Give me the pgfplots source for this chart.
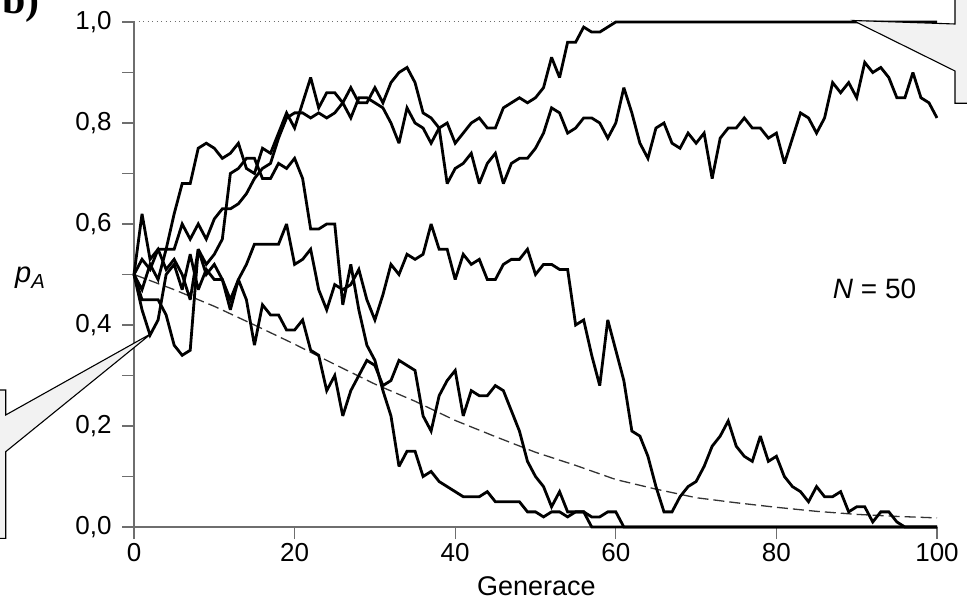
\documentclass[border=0pt]{standalone}
\usepackage{fontspec}
\setmainfont{Liberation Sans}
\newfontfamily\serifb{Liberation Serif}
\usepackage{pgfplots}
\pgfplotsset{compat=1.18}
\definecolor{axgray}{HTML}{6E6E6E}
\definecolor{callfill}{HTML}{F2F2F2}
\begin{document}
\begin{tikzpicture}[x=1pt,y=1pt]
\useasboundingbox (0,0) rectangle (967,606);
\begin{axis}[
  at={(134pt,79pt)}, anchor=south west,
  scale only axis, width=803pt, height=505pt,
  xmin=0, xmax=100, ymin=0, ymax=1,
  clip=false,
  axis x line*=bottom, axis y line*=left,
  axis line style={-, draw=axgray, line width=1.3pt},
  tick align=outside,
  major tick length=12pt, minor tick length=12pt,
  tick style={draw=axgray, line width=1.3pt},
  xtick={0,20,40,60,80,100},
  ytick={0,0.2,0.4,0.6,0.8,1.0},
  minor ytick={0.1,0.3,0.5,0.7,0.9},
  /pgf/number format/assume math mode=true,
  yticklabel style={xshift=-7pt, /pgf/number format/use comma, /pgf/number format/fixed, /pgf/number format/fixed zerofill, /pgf/number format/precision=1},
  xticklabel style={yshift=-1pt},
  tick label style={font=\fontsize{26}{31}\selectfont, black},
  traj/.style={black, solid, mark=none, line width=2.8pt, miter limit=3},
]
\addplot[axgray, mark=none, line width=1pt, dash pattern=on 1.2pt off 3.3pt] coordinates {(0,1) (100,1)};
\addplot[black!80, mark=none, line width=1.3pt, dash pattern=on 11pt off 5pt] coordinates {
(0,0.500) (5,0.470) (10,0.437) (15,0.400) (20,0.362) (25,0.322) (30,0.283) (35,0.249) (40,0.211) (45,0.179) (50,0.148) (55,0.122) (60,0.094) (65,0.075) (70,0.058) (75,0.048) (80,0.039) (85,0.031) (90,0.025) (95,0.021) (100,0.018)};
% S1
\addplot[traj] coordinates {
(0,0.50) (1,0.53) (2,0.51) (3,0.55) (4,0.55) (5,0.62) (6,0.68) (7,0.68) (8,0.75) (9,0.76)
(10,0.75) (11,0.73) (12,0.74) (13,0.76) (14,0.71) (15,0.70) (16,0.75) (17,0.74) (18,0.78) (19,0.82)
(20,0.79) (21,0.84) (22,0.89) (23,0.83) (24,0.86) (25,0.86) (26,0.84) (27,0.87) (28,0.84) (29,0.84)
(30,0.87) (31,0.84) (32,0.88) (33,0.90) (34,0.91) (35,0.88) (36,0.82) (37,0.81) (38,0.79) (39,0.68)
(40,0.71) (41,0.72) (42,0.74) (43,0.68) (44,0.72) (45,0.74) (46,0.68) (47,0.72) (48,0.73) (49,0.73)
(50,0.75) (51,0.78) (52,0.83) (53,0.82) (54,0.78) (55,0.79) (56,0.81) (57,0.81) (58,0.80) (59,0.77)
(60,0.80) (61,0.87) (62,0.82) (63,0.76) (64,0.73) (65,0.79) (66,0.80) (67,0.76) (68,0.75) (69,0.78)
(70,0.76) (71,0.78) (72,0.69) (73,0.77) (74,0.79) (75,0.79) (76,0.81) (77,0.79) (78,0.79) (79,0.77)
(80,0.78) (81,0.72) (82,0.77) (83,0.82) (84,0.81) (85,0.78) (86,0.81) (87,0.88) (88,0.86) (89,0.88)
(90,0.85) (91,0.92) (92,0.90) (93,0.91) (94,0.89) (95,0.85) (96,0.85) (97,0.90) (98,0.85) (99,0.84)
(100,0.81)};
% S2
\addplot[traj] coordinates {
(0,0.50) (1,0.47) (2,0.52) (3,0.49) (4,0.55) (5,0.55) (6,0.60) (7,0.57) (8,0.60) (9,0.57)
(10,0.61) (11,0.63) (12,0.63) (13,0.64) (14,0.66) (15,0.69) (16,0.71) (17,0.72) (18,0.77) (19,0.81)
(20,0.82) (21,0.82) (22,0.81) (23,0.82) (24,0.81) (25,0.82) (26,0.84) (27,0.81) (28,0.85) (29,0.85)
(30,0.84) (31,0.83) (32,0.80) (33,0.76) (34,0.83) (35,0.80) (36,0.79) (37,0.76) (38,0.79) (39,0.80)
(40,0.76) (41,0.78) (42,0.80) (43,0.81) (44,0.79) (45,0.79) (46,0.83) (47,0.84) (48,0.85) (49,0.84)
(50,0.85) (51,0.87) (52,0.93) (53,0.89) (54,0.96) (55,0.96) (56,0.99) (57,0.98) (58,0.98) (59,0.99)
(60,1.00) (70,1.00) (80,1.00) (90,1.00) (100,1.00)};
% S3
\addplot[traj] coordinates {
(0,0.50) (1,0.62) (2,0.53) (3,0.55) (4,0.51) (5,0.53) (6,0.50) (7,0.45) (8,0.55) (9,0.52)
(10,0.54) (11,0.57) (12,0.70) (13,0.71) (14,0.73) (15,0.73) (16,0.69) (17,0.69) (18,0.72) (19,0.71)
(20,0.73) (21,0.69) (22,0.59) (23,0.59) (24,0.60) (25,0.60) (26,0.44) (27,0.52) (28,0.43) (29,0.36)
(30,0.33) (31,0.27) (32,0.22) (33,0.12) (34,0.15) (35,0.15) (36,0.10) (37,0.11) (38,0.09) (39,0.08)
(40,0.07) (41,0.06) (42,0.06) (43,0.06) (44,0.07) (45,0.05) (46,0.05) (47,0.05) (48,0.05) (49,0.03)
(50,0.03) (51,0.02) (52,0.03) (53,0.03) (54,0.02) (55,0.03) (56,0.03) (57,0.02) (58,0.02) (59,0.03)
(60,0.03) (61,0) (80,0) (100,0)};
% S4
\addplot[traj] coordinates {
(0,0.50) (1,0.43) (2,0.38) (3,0.41) (4,0.50) (5,0.52) (6,0.47) (7,0.54) (8,0.47) (9,0.51)
(10,0.49) (11,0.49) (12,0.45) (13,0.49) (14,0.52) (15,0.56) (16,0.56) (17,0.56) (18,0.56) (19,0.60)
(20,0.52) (21,0.53) (22,0.55) (23,0.47) (24,0.43) (25,0.48) (26,0.47) (27,0.48) (28,0.51) (29,0.45)
(30,0.41) (31,0.46) (32,0.52) (33,0.50) (34,0.54) (35,0.53) (36,0.54) (37,0.60) (38,0.55) (39,0.55)
(40,0.49) (41,0.54) (42,0.52) (43,0.53) (44,0.49) (45,0.49) (46,0.52) (47,0.53) (48,0.53) (49,0.55)
(50,0.50) (51,0.52) (52,0.52) (53,0.51) (54,0.51) (55,0.40) (56,0.41) (57,0.34) (58,0.28) (59,0.41)
(60,0.35) (61,0.29) (62,0.19) (63,0.18) (64,0.14) (65,0.08) (66,0.03) (67,0.03) (68,0.06) (69,0.08)
(70,0.09) (71,0.12) (72,0.16) (73,0.18) (74,0.21) (75,0.16) (76,0.14) (77,0.13) (78,0.18) (79,0.13)
(80,0.14) (81,0.10) (82,0.08) (83,0.07) (84,0.05) (85,0.08) (86,0.06) (87,0.06) (88,0.07) (89,0.03)
(90,0.04) (91,0.04) (92,0.01) (93,0.03) (94,0.03) (95,0.01) (96,0) (100,0)};
% S5
\addplot[traj] coordinates {
(0,0.50) (1,0.45) (2,0.45) (3,0.45) (4,0.42) (5,0.36) (6,0.34) (7,0.35) (8,0.55) (9,0.50)
(10,0.52) (11,0.49) (12,0.43) (13,0.49) (14,0.45) (15,0.36) (16,0.44) (17,0.42) (18,0.42) (19,0.39)
(20,0.39) (21,0.41) (22,0.35) (23,0.34) (24,0.27) (25,0.30) (26,0.22) (27,0.27) (28,0.30) (29,0.33)
(30,0.32) (31,0.28) (32,0.29) (33,0.33) (34,0.32) (35,0.31) (36,0.22) (37,0.19) (38,0.26) (39,0.29)
(40,0.31) (41,0.22) (42,0.27) (43,0.26) (44,0.26) (45,0.28) (46,0.27) (47,0.23) (48,0.19) (49,0.13)
(50,0.10) (51,0.08) (52,0.04) (53,0.07) (54,0.03) (55,0.03) (56,0.03) (57,0) (80,0) (100,0)};
\node[anchor=base west, font=\fontsize{28}{34}\selectfont] at (axis cs:86.6,0.453) {\textit{N} = 50};
\node[anchor=base, font=\fontsize{27}{32}\selectfont] at (axis cs:50.1,-0.135) {Generace};
\end{axis}
\filldraw[fill=callfill, draw=black, line width=1.1pt] (955,620) -- (955,582) -- (853,585.5) -- (955,535) -- (955,502.7) -- (980,502.7) -- (980,620) -- cycle;
\filldraw[fill=callfill, draw=black, line width=1.1pt] (-20,216) -- (5.7,216) -- (5.7,191) -- (151.7,272.7) -- (5.7,154.3) -- (5.7,67.7) -- (-20,67.7) -- cycle;
\node[anchor=base west, inner sep=0pt, font=\fontsize{29}{34}\selectfont] at (15,323) {\textit{p}\textsubscript{\textit{A}}};
\node[anchor=base west, inner sep=0pt, font=\serifb\bfseries\fontsize{42}{44}\selectfont] at (2,592) {b)};
\end{tikzpicture}
\end{document}
